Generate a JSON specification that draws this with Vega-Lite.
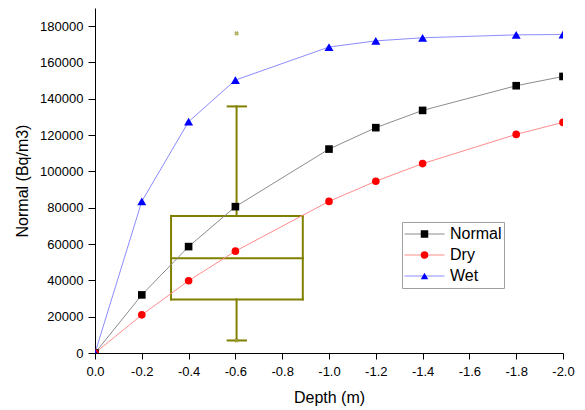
{
  "$schema": "https://vega.github.io/schema/vega-lite/v6.json",
  "autosize": "none",
  "width": 468,
  "height": 345,
  "padding": {"left": 95, "top": 8, "right": 22, "bottom": 57},
  "background": "white",
  "datasets": {
    "series": [
      {"depth": 0, "value": 0, "series": "Normal"},
      {"depth": -0.2, "value": 32000, "series": "Normal"},
      {"depth": -0.4, "value": 58600, "series": "Normal"},
      {"depth": -0.6, "value": 80600, "series": "Normal"},
      {"depth": -1.0, "value": 112300, "series": "Normal"},
      {"depth": -1.2, "value": 124100, "series": "Normal"},
      {"depth": -1.4, "value": 133600, "series": "Normal"},
      {"depth": -1.8, "value": 147200, "series": "Normal"},
      {"depth": -2.0, "value": 152300, "series": "Normal"},
      {"depth": 0, "value": 0, "series": "Dry"},
      {"depth": -0.2, "value": 21000, "series": "Dry"},
      {"depth": -0.4, "value": 39800, "series": "Dry"},
      {"depth": -0.6, "value": 56100, "series": "Dry"},
      {"depth": -1.0, "value": 83500, "series": "Dry"},
      {"depth": -1.2, "value": 94600, "series": "Dry"},
      {"depth": -1.4, "value": 104300, "series": "Dry"},
      {"depth": -1.8, "value": 120400, "series": "Dry"},
      {"depth": -2.0, "value": 127000, "series": "Dry"},
      {"depth": 0, "value": 0, "series": "Wet"},
      {"depth": -0.2, "value": 83500, "series": "Wet"},
      {"depth": -0.4, "value": 127400, "series": "Wet"},
      {"depth": -0.6, "value": 150300, "series": "Wet"},
      {"depth": -1.0, "value": 168500, "series": "Wet"},
      {"depth": -1.2, "value": 171900, "series": "Wet"},
      {"depth": -1.4, "value": 173600, "series": "Wet"},
      {"depth": -1.8, "value": 175200, "series": "Wet"},
      {"depth": -2.0, "value": 175400, "series": "Wet"}
    ],
    "box": [
      {"part": "box top", "depth": -0.325, "depth2": -0.888, "value": 75500, "value2": 75500},
      {"part": "box bottom", "depth": -0.325, "depth2": -0.888, "value": 29500, "value2": 29500},
      {"part": "box left", "depth": -0.325, "depth2": -0.325, "value": 29500, "value2": 75500},
      {"part": "box right", "depth": -0.888, "depth2": -0.888, "value": 29500, "value2": 75500},
      {"part": "median", "depth": -0.325, "depth2": -0.888, "value": 52200, "value2": 52200},
      {"part": "upper whisker", "depth": -0.605, "depth2": -0.605, "value": 75500, "value2": 135800},
      {"part": "lower whisker", "depth": -0.605, "depth2": -0.605, "value": 6900, "value2": 29500},
      {"part": "upper cap", "depth": -0.567, "depth2": -0.645, "value": 135800, "value2": 135800},
      {"part": "lower cap", "depth": -0.567, "depth2": -0.645, "value": 6900, "value2": 6900}
    ],
    "outliers": [
      {"depth": -0.605, "value": 176000},
      {"depth": -0.605, "value": 6900}
    ]
  },
  "encoding": {
    "x": {"field": "depth", "type": "quantitative", "title": "Depth (m)",
      "scale": {"domain": [0, -2], "nice": false, "zero": false},
      "axis": {"values": [0, -0.2, -0.4, -0.6, -0.8, -1.0, -1.2, -1.4, -1.6, -1.8, -2.0],
        "labelExpr": "replace(format(datum.value, '.1f'), '\u2212', '-')",
        "labelFlush": false, "labelOverlap": false, "labelPadding": 6, "tickSize": 6,
        "titleY": 49, "titleBaseline": "alphabetic"}},
    "y": {"field": "value", "type": "quantitative", "title": "Normal (Bq/m3)",
      "scale": {"domain": [0, 190000], "nice": false},
      "axis": {"values": [0, 20000, 40000, 60000, 80000, 100000, 120000, 140000, 160000, 180000],
        "labelExpr": "format(datum.value, 'd')", "labelPadding": 5, "tickSize": 7,
        "labelOverlap": false, "labelFlush": false,
        "titleX": -68, "titleBaseline": "alphabetic"}}
  },
  "layer": [
    {
      "data": {"name": "box"},
      "mark": {"type": "rule", "stroke": "#808000", "strokeWidth": 2, "strokeCap": "square"},
      "encoding": {
        "x2": {"field": "depth2"},
        "y2": {"field": "value2"}
      }
    },
    {
      "data": {"name": "series"},
      "mark": {"type": "line", "strokeWidth": 1, "clip": true},
      "encoding": {
        "color": {"field": "series", "type": "nominal", "sort": ["Normal", "Dry", "Wet"],
          "scale": {"range": ["#8c8c8c", "#ff8c8c", "#8c8cff"]},
          "legend": {"orient": "none", "legendX": 307, "legendY": 214, "title": null,
            "symbolType": "stroke", "symbolSize": 1600, "symbolStrokeWidth": 1,
            "clipHeight": 20, "rowPadding": 1, "padding": 2, "labelOffset": 5,
            "labelFont": "Liberation Sans", "labelFontSize": 16, "labelExpr": "''",
            "strokeColor": null}}
      }
    },
    {
      "data": {"name": "series"},
      "mark": {"type": "point", "filled": true, "opacity": 1, "strokeWidth": 0, "clip": true},
      "encoding": {
        "fill": {"field": "series", "type": "nominal",
          "scale": {"domain": ["Normal", "Dry", "Wet"], "range": ["#000000", "#ff0000", "#0000ff"]},
          "legend": {"orient": "none", "legendX": 307, "legendY": 214, "title": null,
            "symbolSize": 56, "symbolStrokeWidth": 0, "symbolOffset": 12.5,
            "clipHeight": 20, "rowPadding": 1, "padding": 2, "labelOffset": 17.5,
            "labelFont": "Liberation Sans", "labelFontSize": 16, "labelColor": "#000000",
            "strokeColor": "#a0a0a0"}},
        "shape": {"field": "series", "type": "nominal",
          "scale": {"domain": ["Normal", "Dry", "Wet"], "range": ["square", "circle", "triangle-up"]},
          "legend": {"orient": "none", "legendX": 307, "legendY": 214, "title": null,
            "symbolSize": 56, "symbolStrokeWidth": 0, "symbolOffset": 12.5,
            "clipHeight": 20, "rowPadding": 1, "padding": 2, "labelOffset": 17.5,
            "labelFont": "Liberation Sans", "labelFontSize": 16, "labelColor": "#000000",
            "strokeColor": "#a0a0a0"}},
        "size": {"condition": {"test": "datum.series === 'Wet'", "value": 81}, "value": 58}
      }
    },
    {
      "data": {"name": "outliers"},
      "mark": {"type": "point", "shape": "cross", "angle": 45, "filled": true, "size": 22, "color": "#a0a040", "opacity": 0.8}
    }
  ],
  "config": {
    "view": {"stroke": null},
    "font": "Liberation Sans",
    "axis": {
      "grid": false,
      "labelOverlap": false,
      "domainColor": "#000000",
      "domainWidth": 1,
      "tickColor": "#000000",
      "tickWidth": 1,
      "labelColor": "#000000",
      "titleColor": "#000000",
      "labelFont": "Liberation Sans",
      "labelFontSize": 13,
      "titleFont": "Liberation Sans",
      "titleFontSize": 16,
      "titleFontWeight": "normal"
    }
  }
}
